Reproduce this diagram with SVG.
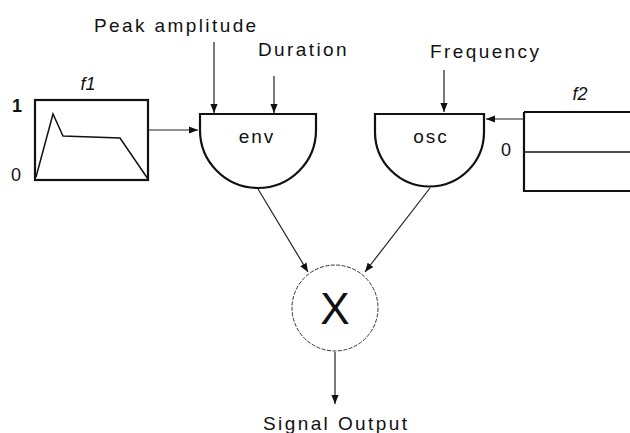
<svg xmlns="http://www.w3.org/2000/svg" width="630" height="433" viewBox="0 0 630 433">
<style>
text{font-family:"Liberation Sans",Arial,sans-serif;fill:#111}
.lbl{font-size:19px;letter-spacing:2.4px}
.it{font-style:italic;font-size:18px}
.unitlbl{font-size:19px;letter-spacing:2px}
.box{fill:none;stroke:#111;stroke-width:2.2}
.unit{fill:#fff;stroke:#111;stroke-width:2.2}
.con{fill:none;stroke:#222;stroke-width:1.2}
</style>
<defs>
<marker id="ah" viewBox="0 0 10 10" refX="10" refY="5" markerWidth="9" markerHeight="9" markerUnits="userSpaceOnUse" orient="auto">
<path d="M0,1 L10,5 L0,9 Z" fill="#111"/>
</marker>
</defs>
<rect width="630" height="433" fill="#fff"/>
<g id="f1">
<rect class="box" x="35" y="100" width="113" height="80"/>
<polyline points="36,177 53,114 63,136 120,138 148,179" fill="none" stroke="#111" stroke-width="1.5"/>
<text class="it" x="88" y="90" text-anchor="middle">f1</text>
<text x="12" y="112" font-size="18" font-weight="bold">1</text>
<text x="11" y="181" font-size="18">0</text>
</g>
<g id="env">
<path class="unit" d="M200,114 L316,114 L316,130 A58,58 0 0 1 200,130 Z"/>
<text class="unitlbl" x="257" y="143" text-anchor="middle">env</text>
</g>
<g id="osc">
<path class="unit" d="M375,114 L484,114 L484,132 A54.5,54.5 0 0 1 375,132 Z"/>
<text class="unitlbl" x="431" y="143" text-anchor="middle">osc</text>
</g>
<g id="f2">
<path class="box" d="M524,112 L632,112 M524,112 L524,191 L632,191"/>
<line x1="524" y1="152" x2="632" y2="152" stroke="#111" stroke-width="1.3"/>
<text class="it" x="580" y="100" text-anchor="middle">f2</text>
<text x="501" y="156" font-size="18">0</text>
</g>
<g id="mult">
<circle cx="335" cy="308" r="43" fill="#fff" stroke="#333" stroke-width="1" stroke-dasharray="4 1.5"/>
<text x="335" y="324" font-size="44" text-anchor="middle">X</text>
</g>
<g id="labels">
<text class="lbl" x="94" y="32">Peak amplitude</text>
<text class="lbl" x="258" y="56">Duration</text>
<text class="lbl" x="430" y="58">Frequency</text>
<text class="lbl" x="263" y="430">Signal Output</text>
</g>
<g id="connectors">
<line class="con" x1="148" y1="130" x2="198" y2="130" marker-end="url(#ah)"/>
<line class="con" x1="214" y1="42" x2="214" y2="113" marker-end="url(#ah)"/>
<line class="con" x1="274" y1="76" x2="274" y2="113" marker-end="url(#ah)"/>
<line class="con" x1="444" y1="70" x2="444" y2="112" marker-end="url(#ah)"/>
<line class="con" x1="524" y1="119" x2="486" y2="119" marker-end="url(#ah)"/>
<line class="con" x1="258" y1="189" x2="308" y2="272" marker-end="url(#ah)"/>
<line class="con" x1="430" y1="188" x2="365" y2="272" marker-end="url(#ah)"/>
<line class="con" x1="335" y1="352" x2="335" y2="404" marker-end="url(#ah)"/>
</g>
</svg>
